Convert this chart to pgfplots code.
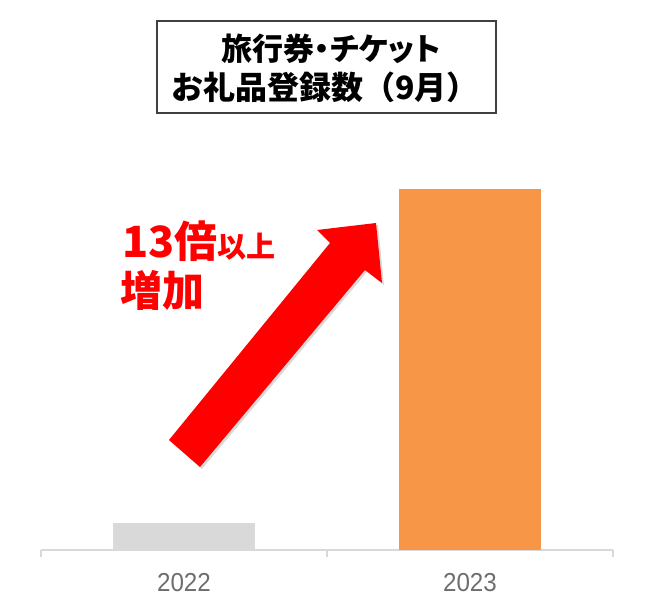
\documentclass[border=0pt]{standalone}
\usepackage{fontspec}
\usepackage{pgfplots}
\pgfplotsset{compat=1.18}
\newfontfamily\jp{Noto Sans CJK JP}
\newfontfamily\jpp[RawFeature=+palt]{Noto Sans CJK JP}
\newfontfamily\tickfont[FakeStretch=0.93]{Liberation Sans}
\definecolor{bargray}{HTML}{D9D9D9}
\definecolor{barorange}{HTML}{F79646}
\definecolor{ticktext}{HTML}{6E6E6E}
\definecolor{boxline}{HTML}{404040}

\begin{document}
\begin{tikzpicture}
\path[use as bounding box] (0,0) rectangle (650pt,613pt);

\begin{axis}[
    at={(41pt,63pt)}, anchor=south west,
    scale only axis,
    width=572pt, height=361pt,
    xmin=-0.5, xmax=1.5,
    ymin=0, ymax=361,
    axis x line*=bottom,
    hide y axis,
    axis line style={bargray, line width=1.5pt},
    xtick={0,1},
    xticklabels={2022,2023},
    major tick length=0pt,
    minor xtick={-0.5,0.5,1.5},
    minor tick length=7pt,
    xtick align=outside,
    minor tick style={bargray, line width=1.5pt},
    xticklabel style={anchor=base, inner sep=0pt, yshift=-41pt,
        font=\tickfont\fontsize{26}{30}\selectfont, text=ticktext},
    ybar, bar width=142pt,
    clip=false,
]
\addplot[fill=bargray, draw=none, bar shift=0pt] coordinates {(0,27)};
\addplot[fill=barorange, draw=none, bar shift=0pt] coordinates {(1,361)};
\end{axis}

% title box
\draw[boxline, line width=1.5pt] (157pt,592pt) rectangle (496pt,500pt);
\node[font=\jpp\bfseries\fontsize{31}{34}\selectfont, inner sep=0pt] at (331pt,564pt) {旅行券・チケット};
\node[font=\jp\bfseries\fontsize{32}{35}\selectfont, inner sep=0pt] at (325pt,526pt) {お礼品登録数（9月）};

% arrow
\fill[black, opacity=0.15] ([shift={(2pt,-2pt)}]376pt,390pt) -- ([shift={(2pt,-2pt)}]317pt,383pt) -- ([shift={(2pt,-2pt)}]330pt,370pt) -- ([shift={(2pt,-2pt)}]169pt,173pt) -- ([shift={(2pt,-2pt)}]200pt,146pt) -- ([shift={(2pt,-2pt)}]365pt,343pt) -- ([shift={(2pt,-2pt)}]382pt,330pt) -- cycle;
\fill[red] (376pt,390pt) -- (317pt,383pt) -- (330pt,370pt) -- (169pt,173pt) -- (200pt,146pt) -- (365pt,343pt) -- (382pt,330pt) -- cycle;

% annotation
\node[anchor=base west, inner sep=0pt, text=red, font=\jp\bfseries\fontsize{43}{46}\selectfont] at (122pt,355pt) {13倍{\fontsize{29}{32}\selectfont 以上}};
\node[anchor=base west, inner sep=0pt, text=red, font=\jp\bfseries\fontsize{42}{46}\selectfont] at (120pt,306pt) {増加};
\end{tikzpicture}
\end{document}
